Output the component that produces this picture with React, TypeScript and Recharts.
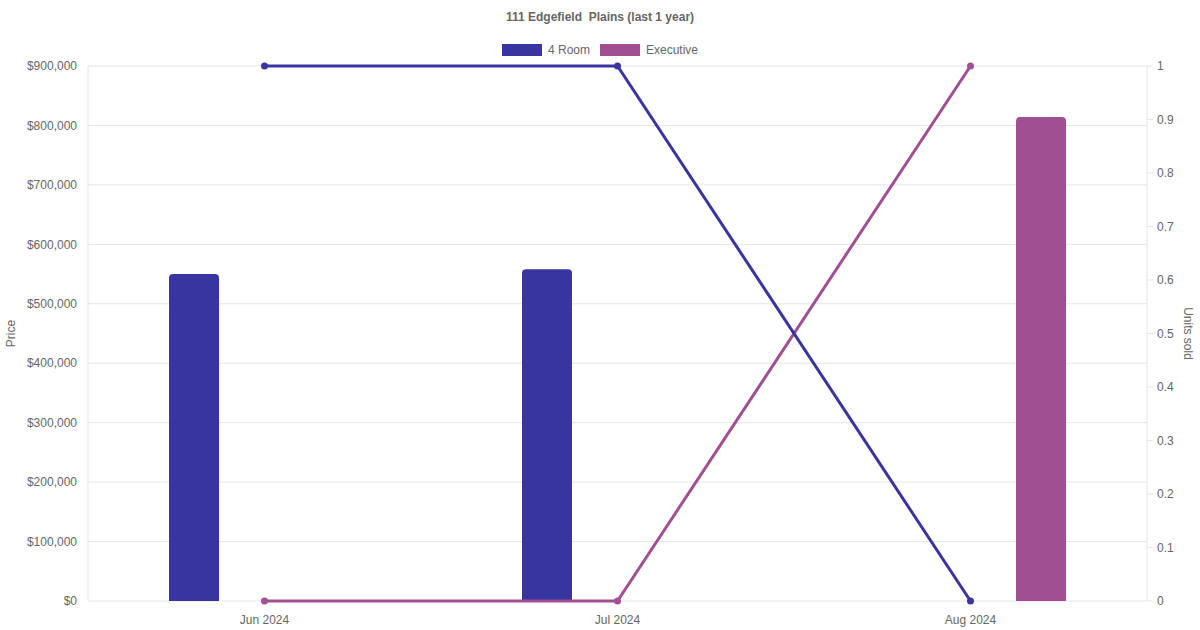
import {
  Bar,
  CartesianGrid,
  ComposedChart,
  Legend,
  Line,
  XAxis,
  YAxis,
} from "recharts";

document.body.style.margin = "0";

const FONT = "'Liberation Sans', Arial, sans-serif";
const TEXT = "#666";
const GRID = "#e5e5e5";

const ROOM_COLOR = "#3935a0";
const EXEC_COLOR = "#a05092";

const months = ["Jun 2024", "Jul 2024", "Aug 2024"];
const fourRoomPrice = [550000, 558000, null];
const executivePrice = [null, null, 814000];
const fourRoomUnits = [1, 1, 0];
const executiveUnits = [0, 0, 1];

const priceTicks = [0, 100000, 200000, 300000, 400000, 500000, 600000, 700000, 800000, 900000];
const unitTicks = [0, 0.1, 0.2, 0.3, 0.4, 0.5, 0.6, 0.7, 0.8, 0.9, 1];

const data = months.map((month, i) => ({
  month,
  fourRoomPrice: fourRoomPrice[i],
  executivePrice: executivePrice[i],
  fourRoomUnits: fourRoomUnits[i],
  executiveUnits: executiveUnits[i],
}));

const legendItems = [
  { name: "4 Room", color: ROOM_COLOR },
  { name: "Executive", color: EXEC_COLOR },
];

const Header = () => (
  <div style={{ position: "relative", width: 1200, height: 60, fontFamily: FONT, color: TEXT }}>
    <div
      style={{
        position: "absolute",
        top: 9,
        width: "100%",
        textAlign: "center",
        fontSize: 12,
        fontWeight: "bold",
        lineHeight: "16px",
        whiteSpace: "pre",
      }}
    >
      111 Edgefield  Plains (last 1 year)
    </div>
    <div
      style={{
        position: "absolute",
        top: 44,
        width: "100%",
        display: "flex",
        justifyContent: "center",
        fontSize: 12,
        lineHeight: "12px",
      }}
    >
      {legendItems.map((item) => (
        <div key={item.name} style={{ display: "flex", alignItems: "center", margin: "0 5px" }}>
          <span style={{ width: 40, height: 12, background: item.color, marginRight: 6 }} />
          <span>{item.name}</span>
        </div>
      ))}
    </div>
  </div>
);

const priceLabel = (props: any) => {
  const { x, y, height } = props.viewBox;
  const cx = x + 11;
  const cy = y + height / 2;
  return (
    <text
      x={cx}
      y={cy}
      transform={`rotate(-90 ${cx} ${cy})`}
      textAnchor="middle"
      dominantBaseline="central"
      fill={TEXT}
      fontSize={12}
      fontFamily={FONT}
    >
      Price
    </text>
  );
};

const unitsLabel = (props: any) => {
  const { x, y, height } = props.viewBox;
  const cx = x + 41;
  const cy = y + height / 2;
  return (
    <text
      x={cx}
      y={cy}
      transform={`rotate(90 ${cx} ${cy})`}
      textAnchor="middle"
      dominantBaseline="central"
      fill={TEXT}
      fontSize={12}
      fontFamily={FONT}
    >
      Units sold
    </text>
  );
};

const tickStyle = { fill: TEXT, fontSize: 12, fontFamily: FONT };

export default function App() {
  return (
    <ComposedChart
      width={1200}
      height={630}
      data={data}
      margin={{ top: 6, right: 0, bottom: 0, left: 0 }}
      barSize={50}
      barGap={91}
    >
      <Legend verticalAlign="top" wrapperStyle={{ top: 0, left: 0 }} content={() => <Header />} />
      <CartesianGrid yAxisId="left" vertical={false} stroke={GRID} />
      <XAxis
        dataKey="month"
        height={29}
        tickLine={false}
        axisLine={false}
        tick={tickStyle}
        tickMargin={8}
      />
      <YAxis
        yAxisId="left"
        width={88}
        domain={[0, 900000]}
        ticks={priceTicks}
        tickFormatter={(v: number) => `$${v.toLocaleString("en-US")}`}
        tickLine={false}
        axisLine={{ stroke: GRID }}
        tick={tickStyle}
        tickMargin={5}
        label={priceLabel}
      />
      <YAxis
        yAxisId="right"
        orientation="right"
        width={53}
        domain={[0, 1]}
        ticks={unitTicks}
        tickLine={{ stroke: GRID }}
        axisLine={{ stroke: GRID }}
        tick={tickStyle}
        tickSize={6}
        tickMargin={4}
        label={unitsLabel}
      />
      <Bar
        yAxisId="left"
        dataKey="fourRoomPrice"
        name="4 Room"
        fill={ROOM_COLOR}
        radius={[4, 4, 0, 0]}
        isAnimationActive={false}
      />
      <Bar
        yAxisId="left"
        dataKey="executivePrice"
        name="Executive"
        fill={EXEC_COLOR}
        radius={[4, 4, 0, 0]}
        isAnimationActive={false}
      />
      <Line
        yAxisId="right"
        dataKey="executiveUnits"
        stroke={EXEC_COLOR}
        strokeWidth={3}
        dot={{ r: 3.5, fill: EXEC_COLOR, stroke: EXEC_COLOR, strokeWidth: 0 }}
        activeDot={false}
        isAnimationActive={false}
        legendType="none"
      />
      <Line
        yAxisId="right"
        dataKey="fourRoomUnits"
        stroke={ROOM_COLOR}
        strokeWidth={3}
        dot={{ r: 3.5, fill: ROOM_COLOR, stroke: ROOM_COLOR, strokeWidth: 0 }}
        activeDot={false}
        isAnimationActive={false}
        legendType="none"
      />
    </ComposedChart>
  );
}
